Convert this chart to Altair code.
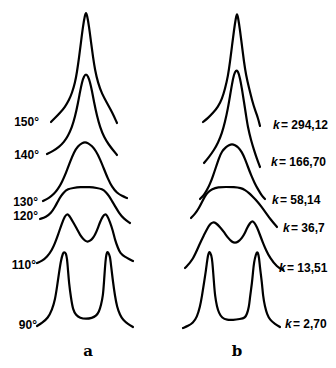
import altair as alt
import pandas as pd

# Curves: (position, level) in figure units (level grows downward)
A_150 = [(51,122),(55,118),(60,113),(65,107),(69,100),(72,93),(75,83),(77,72),(79,58),(81,42),
         (83,26),(85,15),(86,12),(87,15),(89,26),(91,42),(93,57),(95,70),(98,83),(102,94),(107,103),
         (112,112),(117,123)]
A_140 = [(47,154),(53,151),(59,147),(64,142),(68,136),(72,127),(75,117),(78,103),(80,92),(82,82),
         (84,76),(86,74),(88,76),(90,82),(92,91),(94,102),(97,116),(100,127),(104,137),(109,145),
         (113,150),(117,155)]
A_130 = [(43,201),(49,198),(54,194),(58,189),(62,182),(66,173),(70,162),(74,152),(78,146),(82,143),
         (85,142),(88,143),(92,146),(96,151),(100,159),(104,169),(108,179),(112,187),(117,193),
         (122,196),(127,198)]
A_120 = [(40,219),(46,217),(51,213),(55,207),(58,201),(61,196),(64,192),(68,189),(73,188),(80,187),
         (90,187),(97,188),(102,189),(106,192),(109,196),(112,201),(115,206),(119,213),(124,219),
         (130,223)]
A_110 = [(37,263),(42,261),(47,257),(52,250),(55,243),(58,235),(62,223),(65,216),(67,214),(69,215),
         (73,222),(77,229),(80,235),(84,240),(87,242),(90,241),(93,238),(95,235),(98,228),(100,222),
         (103,216),(105,214),(107,215),(110,222),(113,231),(115,240),(118,248),(120,253),(125,257),
         (129,259),(133,261)]
A_90 = [(37,326),(42,323),(48,318),(52,310),(55,300),(57,287),(59,273),(61,260),(63,253),(64,252),
        (66,253),(67,258),(68,270),(69,283),(71,298),(73,310),(76,315),(80,318),(86,319),(92,318),
        (96,316),(99,312),(101,305),(103,296),(104,282),(105,267),(106,256),(107,252),(108,252),
        (110,256),(111,265),(113,282),(115,296),(117,307),(120,315),(123,320),(128,324),(133,327)]

B_1 = [(203,122),(208,118),(213,113),(218,107),(222,99),(225,89),(228,76),(230,62),(232,46),(234,30),
       (236,17),(237,13),(238,17),(240,30),(242,46),(244,62),(246,75),(249,88),(252,100),(255,110),
       (258,118),(260,126)]
B_2 = [(204,163),(209,157),(214,150),(218,143),(222,133),(225,122),(228,108),(230,96),(232,84),
       (234,74),(236,70),(238,71),(240,78),(242,89),(244,102),(246,115),(248,128),(251,140),
       (254,150),(257,159),(260,167)]
B_3 = [(200,199),(204,195),(207,190),(210,184),(213,176),(216,167),(219,158),(222,151),(226,147),
       (229,145),(232,144),(235,145),(238,147),(242,152),(245,159),(248,167),(251,175),(255,184),
       (259,191),(262,196),(265,199)]
B_4 = [(191,218),(195,214),(199,208),(202,202),(205,196),(208,192),(212,189),(218,187),(226,187),
       (234,187),(241,188),(245,190),(249,193),(253,197),(257,201),(261,206),(266,213),(271,220),
       (277,227)]
B_5 = [(185,268),(193,260),(200,243),(204,235),(207,229),(210,224),(213,222),(216,223),(220,227),
       (224,232),(228,238),(232,242),(235,243),(238,242),(242,238),(245,233),(247,228),(250,223),
       (252,221),(254,222),(257,227),(260,235),(263,243),(266,250),(270,258),(277,267),(283,270)]
B_6 = [(183,328),(188,326),(193,323),(197,317),(200,307),(202,296),(204,283),(206,270),(207,262),
       (208,255),(209,252),(210,252),(212,257),(213,270),(214,283),(215,296),(217,307),(219,313),
       (222,318),(227,320),(233,320),(240,319),(245,318),(247,314),(249,307),(250,297),(252,283),
       (253,272),(254,262),(256,254),(257,252),(258,253),(259,257),(260,268),(262,283),(263,296),
       (265,307),(267,314),(270,320),(275,324),(280,327)]

CURVES = [("a150", A_150), ("a140", A_140), ("a130", A_130), ("a120", A_120), ("a110", A_110),
          ("a90", A_90), ("b1", B_1), ("b2", B_2), ("b3", B_3), ("b4", B_4), ("b5", B_5), ("b6", B_6)]

ANGLE_LABELS = ["150°", "140°", "130°", "120°", "110°", "90°"]
ANGLE_X = [39, 39, 38, 38, 36, 37]
ANGLE_Y = [122, 155, 202, 216, 265, 325]

K_VALUES = ["294,12", "166,70", "58,14", "36,7", "13,51", "2,70"]
K_X = [273, 271, 272, 283, 279, 285]
K_Y = [125, 162, 200, 228, 268, 324]

PANELS = ["a", "b"]
PANEL_X = [88, 237]
PANEL_Y = [351, 351]

rows = []
for name, pts in CURVES:
    for i, (x, y) in enumerate(pts):
        rows.append({"curve": name, "i": i, "x": x, "y": y})
df = pd.DataFrame(rows)

xs = alt.Scale(domain=[8, 328], nice=False, zero=False)
ys = alt.Scale(domain=[8, 360], nice=False, zero=False, reverse=True)
SANS = "Liberation Sans Narrow, Liberation Sans, Arial, sans-serif"

lines = alt.Chart(df).mark_line(color="black", strokeWidth=2.2, interpolate="basis",
                                strokeCap="round", clip=False).encode(
    x=alt.X("x:Q", scale=xs, axis=None),
    y=alt.Y("y:Q", scale=ys, axis=None),
    detail="curve:N",
    order="i:Q",
)

angles = alt.Chart(pd.DataFrame({"t": ANGLE_LABELS, "x": ANGLE_X, "y": ANGLE_Y})).mark_text(
    align="right", baseline="middle", font=SANS, fontSize=12, color="black", fontWeight="bold"
).encode(x=alt.X("x:Q", scale=xs, axis=None), y=alt.Y("y:Q", scale=ys, axis=None), text="t:N")

kdf = pd.DataFrame({"v": ["= " + v for v in K_VALUES], "x": K_X, "y": K_Y})
kdf["x2"] = kdf["x"] + 8
kdf["k"] = "k"
ks = alt.Chart(kdf).mark_text(
    align="left", baseline="middle", font=SANS, fontSize=12, fontStyle="italic",
    fontWeight="bold", color="black"
).encode(x=alt.X("x:Q", scale=xs, axis=None), y=alt.Y("y:Q", scale=ys, axis=None), text="k:N")
kvals = alt.Chart(kdf).mark_text(
    align="left", baseline="middle", font=SANS, fontSize=12, color="black", fontWeight="bold"
).encode(x=alt.X("x2:Q", scale=xs, axis=None), y=alt.Y("y:Q", scale=ys, axis=None), text="v:N")

letters = alt.Chart(pd.DataFrame({"t": PANELS, "x": PANEL_X, "y": PANEL_Y})).mark_text(
    align="center", baseline="middle", font="DejaVu Serif, Liberation Serif, serif",
    fontSize=15, fontWeight="bold", color="black"
).encode(x=alt.X("x:Q", scale=xs, axis=None), y=alt.Y("y:Q", scale=ys, axis=None), text="t:N")

chart = alt.layer(lines, angles, ks, kvals, letters).properties(
    width=320, height=352, padding=0, autosize=alt.AutoSizeParams(type="none"),
    background="white"
).configure_view(stroke=None)

chart.save("out.html", embed_options={"renderer": "svg", "actions": False})
